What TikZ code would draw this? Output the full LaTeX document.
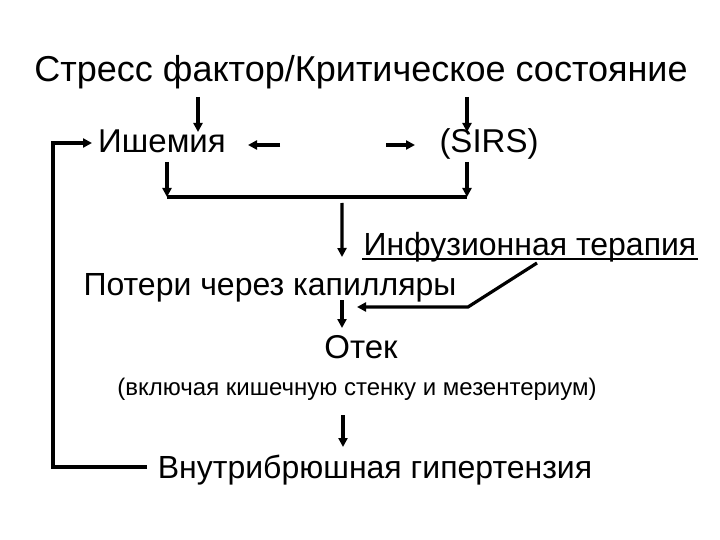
\documentclass[tikz,border=0pt]{standalone}
\usepackage{fontspec}
\setmainfont{Liberation Sans}
\usepackage{tikz}
\usetikzlibrary{arrows.meta, calc}

\begin{document}
\begin{tikzpicture}[x=1pt, y=-1pt, line width=3.2pt, >={Triangle[length=9pt,width=9pt]},
    txt/.style={inner sep=0pt, anchor=base, font=\fontsize{32}{38}\selectfont},
    note/.style={txt, font=\fontsize{24}{28}\selectfont}]
\useasboundingbox (0,0) rectangle (720,540);

\node[txt, font=\fontsize{36}{42}\selectfont] (title) at (361,82) {Стресс фактор/Критическое состояние};
\node[txt, font=\fontsize{33}{39}\selectfont] (ischemia) at (162,153) {Ишемия};
\node[txt, font=\fontsize{33}{39}\selectfont] (sirs) at (489,153) {(SIRS)};
\node[txt] (infusion) at (530,255) {Инфузионная терапия};
\node[txt] (losses) at (270,295) {Потери через капилляры};
\node[txt, font=\fontsize{33}{39}\selectfont] (edema) at (361,358) {Отек};
\node[note] (edemanote) at (357,395) {(включая кишечную стенку и мезентериум)};
\node[txt] (iah) at (375,478) {Внутрибрюшная гипертензия};

\coordinate (mergel) at ($(ischemia.base)+(5,44)$);
\coordinate (merger) at ($(sirs.base)+(-22,44)$);

\draw[->] ($(title.base)+(-163,15)$) -- ($(ischemia.base)+(36,-21)$);
\draw[->] ($(title.base)+(106,15)$) -- ($(sirs.base)+(-22,-21)$);
\draw[->] ($(sirs.base)+(-209,-8)$) -- ($(ischemia.base)+(86,-8)$);
\draw[->] ($(ischemia.base)+(224,-8)$) -- ($(sirs.base)+(-74,-8)$);
\draw[->] ($(ischemia.base)+(5,9)$) -- (mergel);
\draw[->] ($(sirs.base)+(-22,9)$) -- (merger);
\draw (mergel) -- (merger);
\draw[->] ($(mergel)!0.583!(merger)+(0,6)$) -- ($(losses.base)+(72,-38)$);
\draw[line width=2pt] ($(infusion.base west)+(0,4)$) -- ($(infusion.base east)+(0,4)$);
\draw[->] ($(infusion.base)+(7,8)$) -- ($(losses.base)+(198,12)$) -- ($(losses.base)+(87,12)$);
\draw[->] ($(losses.base)+(72,5)$) -- ($(edema.base)+(-19,-30)$);
\draw[->] ($(edemanote.base)+(-14,20)$) -- ($(iah.base)+(-32,-31)$);
\draw[->] ($(iah.base)+(-228,-11)$) -| ($(ischemia.base)+(-109,-10)$) -- ($(ischemia.base)+(-70,-10)$);

\end{tikzpicture}
\end{document}
